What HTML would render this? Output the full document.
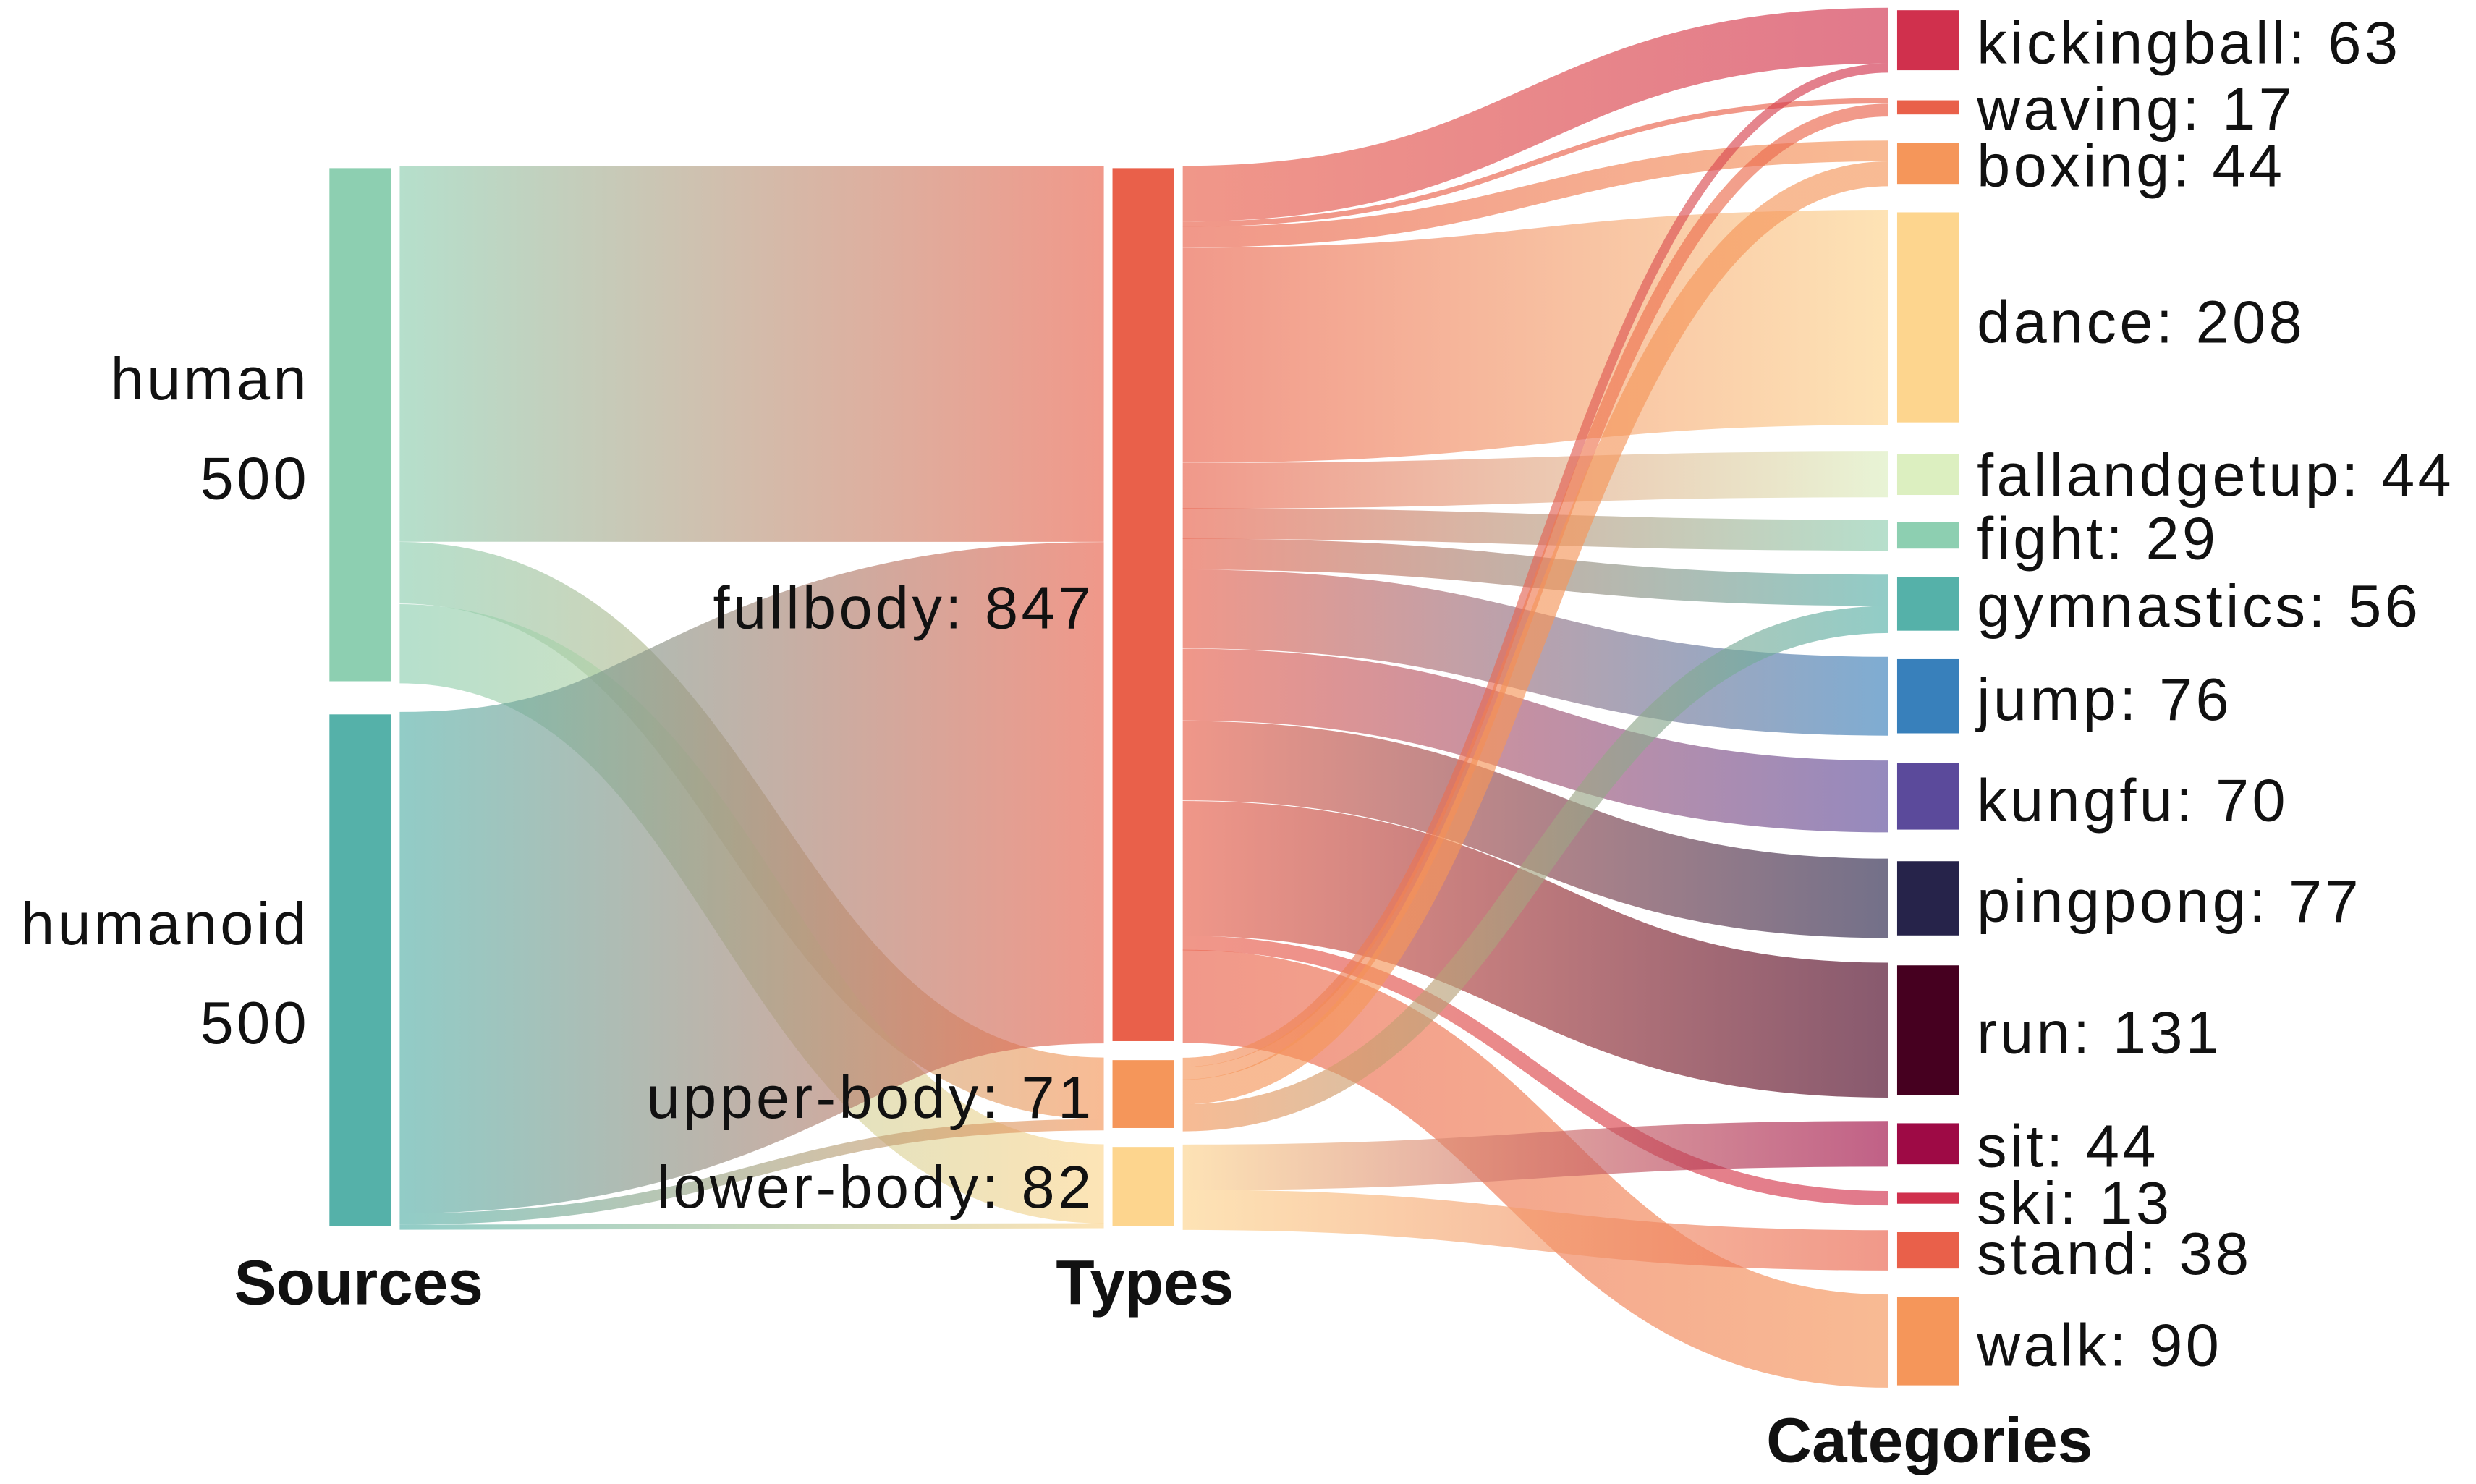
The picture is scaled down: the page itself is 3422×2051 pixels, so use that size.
<!DOCTYPE html>
<html><head><meta charset="utf-8"><style>
html,body{margin:0;padding:0;background:#fff}
svg{display:block}
text{font-family:"Liberation Sans","DejaVu Sans",sans-serif;fill:#111}
</style></head><body>
<svg id="s" width="3422" height="2051" viewBox="0 0 1568 940" xmlns="http://www.w3.org/2000/svg">
<defs id="d"></defs>
<g id="links"></g>
<g id="nodes"></g>
<g id="labels" font-size="38" letter-spacing="2">
<text x="196" y="253" text-anchor="end">human</text>
<text x="196" y="316" text-anchor="end">500</text>
<text x="196" y="598" text-anchor="end">humanoid</text>
<text x="196" y="661" text-anchor="end">500</text>
<text x="693" y="398" text-anchor="end">fullbody: 847</text>
<text x="693" y="708" text-anchor="end">upper-body: 71</text>
<text x="693" y="765" text-anchor="end">lower-body: 82</text>
<text x="1252" y="40">kickingball: 63</text>
<text x="1252" y="82">waving: 17</text>
<text x="1252" y="118">boxing: 44</text>
<text x="1252" y="217">dance: 208</text>
<text x="1252" y="314">fallandgetup: 44</text>
<text x="1252" y="354">fight: 29</text>
<text x="1252" y="397">gymnastics: 56</text>
<text x="1252" y="456">jump: 76</text>
<text x="1252" y="520">kungfu: 70</text>
<text x="1252" y="584">pingpong: 77</text>
<text x="1252" y="667">run: 131</text>
<text x="1252" y="739">sit: 44</text>
<text x="1252" y="775">ski: 13</text>
<text x="1252" y="807">stand: 38</text>
<text x="1252" y="865">walk: 90</text>
</g>
<g font-size="40" font-weight="bold" text-anchor="middle">
<text x="227" y="826">Sources</text>
<text x="725" y="826">Types</text>
<text x="1222" y="926">Categories</text>
</g>
</svg>
<script>
var N={
human:{x:207,y:105,h:328,c:"#8dcfb1"},
humanoid:{x:207,y:451,h:327,c:"#55b1a9"},
fullbody:{x:703,y:105,h:556,c:"#e9604a"},
upper:{x:703,y:670,h:46,c:"#f5965a"},
lower:{x:703,y:725,h:53,c:"#fdd58e"},
kickingball:{x:1200,y:5,h:41,c:"#d0304d"},
waving:{x:1200,y:62,h:12,c:"#e9604a"},
boxing:{x:1200,y:89,h:29,c:"#f5965a"},
dance:{x:1200,y:133,h:136,c:"#fdd58e"},
fallandgetup:{x:1200,y:286,h:29,c:"#dcefc0"},
fight:{x:1200,y:329,h:20,c:"#8dcfb1"},
gymnastics:{x:1200,y:364,h:37,c:"#55b1a9"},
jump:{x:1200,y:416,h:50,c:"#3880bb"},
kungfu:{x:1200,y:482,h:45,c:"#5b4a9b"},
pingpong:{x:1200,y:544,h:50,c:"#26234a"},
run:{x:1200,y:610,h:85,c:"#460020"},
sit:{x:1200,y:710,h:29,c:"#9e0a45"},
ski:{x:1200,y:754,h:10,c:"#d0304d"},
stand:{x:1200,y:779,h:26,c:"#e9604a"},
walk:{x:1200,y:820,h:59,c:"#f5965a"}};
var order=Object.keys(N);
var F=[["human","fullbody",363],["human","upper",60],["human","lower",77],
["humanoid","fullbody",484],["humanoid","upper",11],["humanoid","lower",5],
["fullbody","kickingball",54],["fullbody","waving",5],["fullbody","boxing",20],["fullbody","dance",208],
["fullbody","fallandgetup",44],["fullbody","fight",29],["fullbody","gymnastics",30],["fullbody","jump",76],
["fullbody","kungfu",70],["fullbody","pingpong",77],["fullbody","run",131],["fullbody","ski",13],["fullbody","walk",90],
["upper","kickingball",9],["upper","waving",12],["upper","boxing",24],["upper","gymnastics",26],
["lower","sit",44],["lower","stand",38]];
var k=0.656;
var so={},to={};order.forEach(function(n){so[n]=0;to[n]=0;});
var L=F.map(function(f){return {s:f[0],t:f[1],w:f[2]*k};});
order.forEach(function(s){L.filter(function(l){return l.s==s;}).sort(function(a,b){return order.indexOf(a.t)-order.indexOf(b.t);}).forEach(function(l){l.y0=N[s].y+so[s]+l.w/2;so[s]+=l.w;});});
order.forEach(function(t){var ls=L.filter(function(l){return l.t==t;});var tot=ls.reduce(function(a,l){return a+l.w;},0);var sc=N[t].h/tot;ls.sort(function(a,b){return order.indexOf(a.s)-order.indexOf(b.s);}).forEach(function(l){l.w1=l.w*sc;l.y1=N[t].y+to[t]+l.w1/2;to[t]+=l.w1;});});
var ns="http://www.w3.org/2000/svg",d=document.getElementById("d"),g=document.getElementById("links");
L.forEach(function(l,i){
var x0=N[l.s].x+42,x1=N[l.t].x,m=(x0+x1)/2;
var gr=document.createElementNS(ns,"linearGradient");gr.setAttribute("id","g"+i);gr.setAttribute("gradientUnits","userSpaceOnUse");
gr.setAttribute("x1",x0);gr.setAttribute("x2",x1);gr.setAttribute("y1",0);gr.setAttribute("y2",0);
gr.innerHTML='<stop offset="0" stop-color="'+N[l.s].c+'"/><stop offset="1" stop-color="'+N[l.t].c+'"/>';d.appendChild(gr);
var p=document.createElementNS(ns,"path");
var w=(l.w+l.w1)/2;
p.setAttribute("d","M"+(x0+4)+","+l.y0+" C"+m+","+l.y0+" "+m+","+l.y1+" "+(x1-4)+","+l.y1);
p.setAttribute("stroke","url(#g"+i+")");p.setAttribute("stroke-width",Math.max(w,0.8));p.setAttribute("fill","none");p.setAttribute("stroke-opacity","0.65");
g.appendChild(p);});
var ng=document.getElementById("nodes");
order.forEach(function(n){var r=document.createElementNS(ns,"rect");r.setAttribute("x",N[n].x);r.setAttribute("y",N[n].y);r.setAttribute("width",42);r.setAttribute("height",N[n].h);r.setAttribute("fill",N[n].c);r.setAttribute("stroke","#fff");r.setAttribute("stroke-width","3");ng.appendChild(r);});
</script>
</body></html>
